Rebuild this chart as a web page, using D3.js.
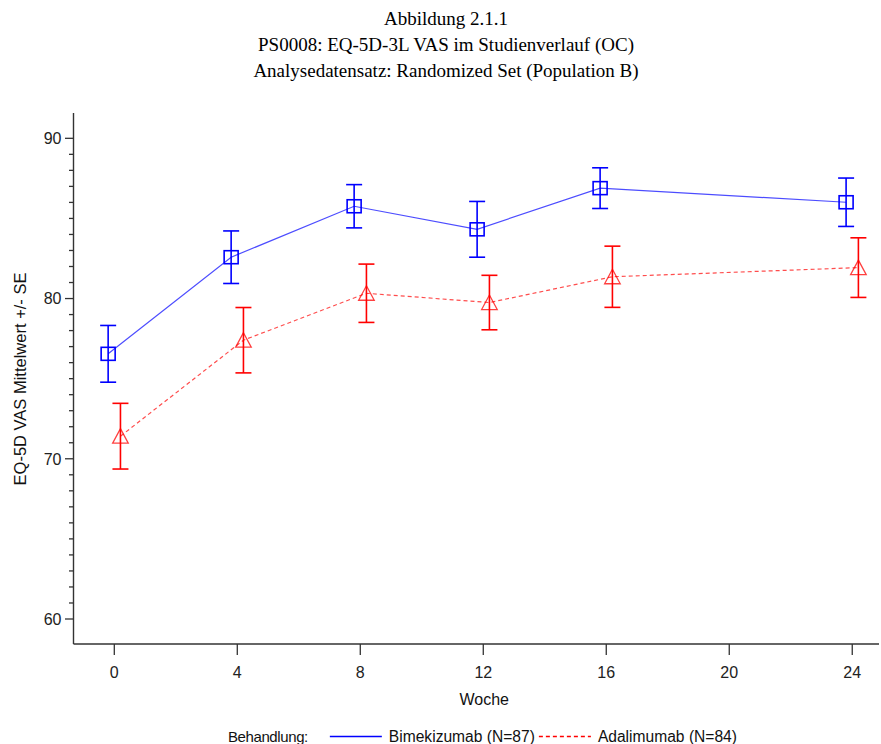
<!DOCTYPE html>
<html>
<head>
<meta charset="utf-8">
<script src="https://cdn.jsdelivr.net/npm/d3@7"></script>
<style>
  html, body { margin: 0; padding: 0; background: #fff; }
  svg { display: block; }
</style>
</head>
<body>
<svg id="chart" width="881" height="744"></svg>
<script>
// ---- data ----
const titleLines = [
  "Abbildung 2.1.1",
  "PS0008: EQ-5D-3L VAS im Studienverlauf (OC)",
  "Analysedatensatz: Randomized Set (Population B)"
];
const weeks = [0, 4, 8, 12, 16, 24];
const bimeMean = [76.55, 82.58, 85.76, 84.32, 86.89, 86.01];
const bimeSE   = [1.77, 1.64, 1.35, 1.74, 1.27, 1.51];
const adaMean  = [71.41, 77.40, 80.33, 79.75, 81.36, 81.93];
const adaSE    = [2.05, 2.04, 1.82, 1.70, 1.91, 1.86];
const seriesNames = ["Bimekizumab (N=87)", "Adalimumab (N=84)"];
const xTicks = [0, 4, 8, 12, 16, 20, 24];
const yMajorTicks = [60, 70, 80, 90];
const yMinorTicks = d3.range(60, 91, 1);
const xLabel = "Woche";
const yLabel = "EQ-5D VAS Mittelwert +/- SE";
const legendTitle = "Behandlung:";

// ---- layout ----
const svg = d3.select("#chart");
const sans = "'Liberation Sans', Arial, sans-serif";
const serif = "'Liberation Serif', 'Times New Roman', serif";
const axisColor = "#333";

const x = d3.scaleLinear().domain([-1.327, 24.87]).range([73.5, 879]);
const y = d3.scaleLinear().domain([58.44, 91.58]).range([644, 113]);
const dodge = 0.2;

// title
svg.append("g").selectAll("text").data(titleLines).join("text")
  .attr("x", 446).attr("y", (d, i) => 25 + i * 26)
  .attr("text-anchor", "middle")
  .attr("font-family", serif).attr("font-size", 19).attr("fill", "#000")
  .text(d => d);

// y axis
const yAxisG = svg.append("g").attr("transform", `translate(${x.range()[0]},0)`);
yAxisG.append("line").attr("x1", 0).attr("x2", 0)
  .attr("y1", y.range()[1]).attr("y2", y.range()[0])
  .attr("stroke", axisColor).attr("stroke-width", 1.4);
yAxisG.selectAll("line.minor").data(yMinorTicks.filter(v => !yMajorTicks.includes(v))).join("line")
  .attr("class", "minor")
  .attr("x1", -4.5).attr("x2", 0).attr("y1", d => y(d)).attr("y2", d => y(d))
  .attr("stroke", axisColor).attr("stroke-width", 1.3);
yAxisG.selectAll("line.major").data(yMajorTicks).join("line")
  .attr("class", "major")
  .attr("x1", -8.5).attr("x2", 0).attr("y1", d => y(d)).attr("y2", d => y(d))
  .attr("stroke", axisColor).attr("stroke-width", 1.3);
yAxisG.selectAll("text").data(yMajorTicks).join("text")
  .attr("x", -12).attr("y", d => y(d)).attr("dy", "0.36em")
  .attr("text-anchor", "end")
  .attr("font-family", sans).attr("font-size", 16).attr("fill", "#222")
  .text(d => d);

// x axis
const xAxisG = svg.append("g").attr("transform", `translate(0,${y.range()[0]})`);
xAxisG.append("line").attr("y1", 0).attr("y2", 0)
  .attr("x1", x.range()[0]).attr("x2", x.range()[1])
  .attr("stroke", axisColor).attr("stroke-width", 1.4);
xAxisG.selectAll("line.tick").data(xTicks).join("line")
  .attr("class", "tick")
  .attr("x1", d => x(d)).attr("x2", d => x(d)).attr("y1", 0).attr("y2", 11)
  .attr("stroke", axisColor).attr("stroke-width", 1.3);
xAxisG.selectAll("text").data(xTicks).join("text")
  .attr("x", d => x(d)).attr("y", 28).attr("dy", "0.36em")
  .attr("text-anchor", "middle")
  .attr("font-family", sans).attr("font-size", 16).attr("fill", "#222")
  .text(d => d);

// axis labels
svg.append("text")
  .attr("x", (x.range()[0] + x.range()[1]) / 2 + 8).attr("y", 699).attr("dy", "0.36em")
  .attr("text-anchor", "middle")
  .attr("font-family", sans).attr("font-size", 16).attr("fill", "#111")
  .text(xLabel);
svg.append("text")
  .attr("transform", "translate(20,379) rotate(-90)")
  .attr("dy", "0.36em")
  .attr("text-anchor", "middle")
  .attr("font-family", sans).attr("font-size", 16.5).attr("fill", "#111")
  .text(yLabel);

// series
const series = [
  { name: seriesNames[0], mean: bimeMean, se: bimeSE, color: "#0000ff", off: -dodge, dash: null, marker: "square" },
  { name: seriesNames[1], mean: adaMean, se: adaSE, color: "#ff0000", off: dodge, dash: "4,3", marker: "triangle" }
];

const capW = 8;
series.forEach(s => {
  const pts = weeks.map((w, i) => ({ w, m: s.mean[i], se: s.se[i] }));
  const g = svg.append("g");
  const line = d3.line().x(d => x(d.w + s.off)).y(d => y(d.m));
  g.append("path").datum(pts)
    .attr("d", line).attr("fill", "none")
    .attr("stroke", s.color).attr("stroke-opacity", 0.7).attr("stroke-width", 1.2)
    .attr("stroke-dasharray", s.dash);
  // error bars
  const eb = g.selectAll("g.eb").data(pts).join("g").attr("class", "eb");
  eb.append("line")
    .attr("x1", d => x(d.w + s.off)).attr("x2", d => x(d.w + s.off))
    .attr("y1", d => y(d.m - d.se)).attr("y2", d => y(d.m + d.se))
    .attr("stroke", s.color).attr("stroke-width", 1.6);
  [1, -1].forEach(sign => {
    eb.append("line")
      .attr("x1", d => x(d.w + s.off) - capW).attr("x2", d => x(d.w + s.off) + capW)
      .attr("y1", d => y(d.m + sign * d.se)).attr("y2", d => y(d.m + sign * d.se))
      .attr("stroke", s.color).attr("stroke-width", 1.6);
  });
  // markers
  if (s.marker === "square") {
    g.selectAll("rect").data(pts).join("rect")
      .attr("x", d => x(d.w + s.off) - 7).attr("y", d => y(d.m) - 6.5)
      .attr("width", 14).attr("height", 13)
      .attr("fill", "none").attr("stroke", s.color).attr("stroke-width", 1.6);
  } else {
    g.selectAll("path.tri").data(pts).join("path").attr("class", "tri")
      .attr("d", d => {
        const cx = x(d.w + s.off), cy = y(d.m);
        return `M${cx},${cy - 7.5}L${cx + 7.8},${cy + 7}L${cx - 7.8},${cy + 7}Z`;
      })
      .attr("fill", "none").attr("stroke", s.color).attr("stroke-opacity", 0.75).attr("stroke-width", 1.3);
  }
});

// legend
const leg = svg.append("g");
const legY = 736.5;
let cx = 228;
const lt = leg.append("text").attr("x", cx).attr("y", legY).attr("dy", "0.36em")
  .attr("font-family", sans).attr("font-size", 15).attr("fill", "#111")
  .attr("letter-spacing", -0.4)
  .text(legendTitle);
cx += lt.node().getComputedTextLength() + 22;
series.forEach((s, i) => {
  leg.append("line").attr("x1", cx).attr("x2", cx + 52).attr("y1", legY).attr("y2", legY)
    .attr("stroke", s.color).attr("stroke-width", 1.3).attr("stroke-dasharray", s.dash);
  cx += 59;
  const t = leg.append("text").attr("x", cx).attr("y", legY).attr("dy", "0.36em")
    .attr("font-family", sans).attr("font-size", 15.6).attr("fill", "#111")
    .text(s.name);
  cx += t.node().getComputedTextLength() + 4;
});
</script>
</body>
</html>
